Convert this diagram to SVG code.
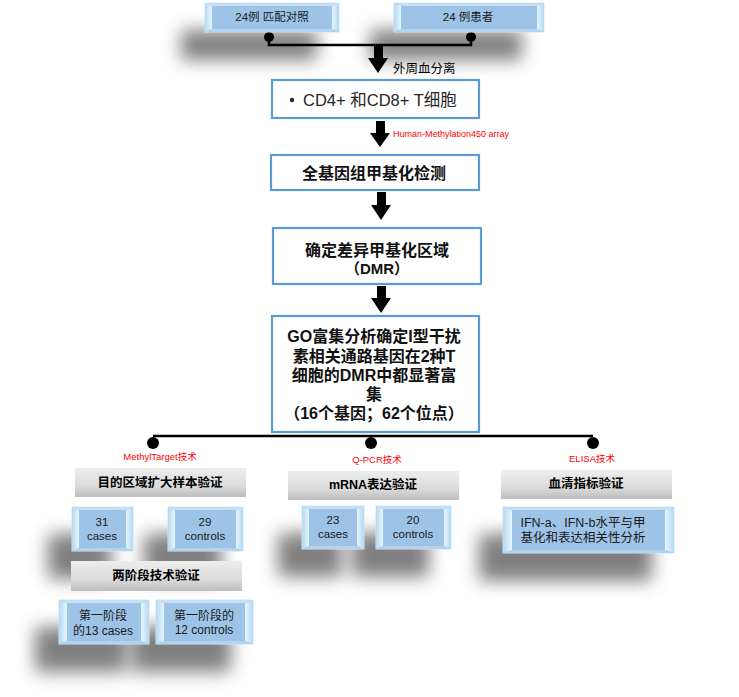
<svg xmlns="http://www.w3.org/2000/svg" width="739" height="697" viewBox="0 0 739 697">
<defs>
<style>
text{font-family:'Liberation Sans','Noto Sans CJK SC',sans-serif;}
.sh{fill:#000;opacity:0.5;filter:url(#blur);}
.main{fill:#fff;stroke:#5B9BD5;stroke-width:2.2;}
.bt{font-size:16px;font-weight:bold;fill:#111;text-anchor:middle;}
.blue{fill:#9DC3E6;stroke:#D2E5F5;stroke-width:1;}
.bl{fill:url(#gl);}
.br{fill:url(#gr);}
.bh{fill:#C4DEF3;}
.bv{fill:#B3D3EE;}
.bx{font-size:11.5px;fill:#1a1a1a;text-anchor:middle;}
.hd{fill:url(#gg);}
.ht{font-size:12.5px;font-weight:bold;fill:#000;text-anchor:middle;}
.red{font-size:9.5px;fill:#FF0000;text-anchor:middle;}
.ln{stroke:#000;stroke-width:2.5;fill:none;}
.ar{fill:#000;}
</style>
<filter id="blur" x="-70%" y="-90%" width="240%" height="280%"><feGaussianBlur stdDeviation="9"/></filter>
<linearGradient id="gl" x1="0" y1="0" x2="1" y2="0"><stop offset="0" stop-color="#B5D8F2"/><stop offset="1" stop-color="#E6F6FF"/></linearGradient>
<linearGradient id="gr" x1="0" y1="0" x2="1" y2="0"><stop offset="0" stop-color="#E6F6FF"/><stop offset="1" stop-color="#B5D8F2"/></linearGradient>
<linearGradient id="gg" x1="0" y1="0" x2="0" y2="1"><stop offset="0" stop-color="#EDEDED"/><stop offset="0.6" stop-color="#DCDCDC"/><stop offset="1" stop-color="#BDBDBD"/></linearGradient>
</defs>

<g id="shadows">
<rect class="sh" x="181" y="30" width="136" height="30"/>
<rect class="sh" x="370" y="30" width="152" height="30"/>
<rect class="sh" x="48" y="534" width="63" height="45"/>
<rect class="sh" x="144" y="534" width="77" height="45"/>
<rect class="sh" x="35" y="627" width="92" height="45"/>
<rect class="sh" x="132" y="627" width="99" height="45"/>
<rect class="sh" x="278" y="533" width="64" height="44"/>
<rect class="sh" x="352" y="533" width="77" height="44"/>
<rect class="sh" x="479" y="534" width="173" height="47"/>
</g>

<g id="connectors">
<circle cx="269" cy="37" r="5"/>
<circle cx="471" cy="37" r="5"/>
<polyline class="ln" points="269,37 269,45 471,45 471,37"/>
<rect class="ar" x="374" y="44" width="9" height="15"/>
<polygon class="ar" points="368,58 388,58 378,73"/>
<rect class="ar" x="376" y="121" width="9" height="13"/>
<polygon class="ar" points="370,133 390,133 380,147"/>
<rect class="ar" x="377" y="192" width="9" height="14"/>
<polygon class="ar" points="371,205 391,205 381,220"/>
<rect class="ar" x="377" y="286" width="9" height="13"/>
<polygon class="ar" points="371,298 391,298 381,313"/>
<line class="ln" x1="153" y1="436" x2="593" y2="436"/>
<circle cx="153" cy="443" r="6"/>
<circle cx="371" cy="443" r="6"/>
<circle cx="593" cy="443" r="6"/>
<text x="393" y="73" style="font-size:12.5px;fill:#000;">外周血分离</text>
<text x="393" y="137" style="font-size:9px;fill:#FF0000;">Human-Methylation450 array</text>
<text class="red" x="160" y="460">MethylTarget技术</text>
<text class="red" x="377" y="463">Q-PCR技术</text>
<text class="red" x="592" y="462">ELISA技术</text>
</g>

<g id="n_control">
<rect class="blue" x="205" y="3" width="134" height="29"/>
<polygon class="bl" points="205,3 212,6 212,29 205,32"/>
<polygon class="br" points="332,6 339,3 339,32 332,29"/>
<polygon class="bh" points="205,3 339,3 332,6 212,6"/>
<polygon class="bv" points="205,32 212,29 332,29 339,32"/>
<text class="bx" x="272" y="21">24例 匹配对照</text>
</g>
<g id="n_patient">
<rect class="blue" x="394" y="3" width="150" height="29"/>
<polygon class="bl" points="394,3 401,6 401,29 394,32"/>
<polygon class="br" points="537,6 544,3 544,32 537,29"/>
<polygon class="bh" points="394,3 544,3 537,6 401,6"/>
<polygon class="bv" points="394,32 401,29 537,29 544,32"/>
<text class="bx" x="468" y="21">24 例患者</text>
</g>

<g id="n_cells">
<rect class="main" x="272" y="80" width="207" height="38"/>
<circle cx="292" cy="100" r="2.2" fill="#262626"/>
<text x="303" y="106" style="font-size:16.5px;fill:#262626;">CD4+ 和CD8+ T细胞</text>
</g>
<g id="n_wgm">
<rect class="main" x="271" y="155" width="208" height="35"/>
<text class="bt" x="374" y="179">全基因组甲基化检测</text>
</g>
<g id="n_dmr">
<rect class="main" x="273" y="228" width="208" height="56"/>
<text class="bt" x="377" y="256">确定差异甲基化区域</text>
<text class="bt" x="377" y="274" style="font-size:15px;">（DMR）</text>
</g>
<g id="n_go">
<rect class="main" x="272" y="316" width="207" height="116"/>
<text class="bt" x="374" y="342">GO富集分析确定I型干扰</text>
<text class="bt" x="374" y="362">素相关通路基因在2种T</text>
<text class="bt" x="374" y="381">细胞的DMR中都显著富</text>
<text class="bt" x="374" y="400">集</text>
<text class="bt" x="374" y="419">（16个基因；62个位点）</text>
</g>

<g id="h_target">
<rect class="hd" x="75" y="468" width="171" height="29"/>
<text class="ht" x="160" y="487">目的区域扩大样本验证</text>
</g>
<g id="h_mrna">
<rect class="hd" x="288" y="471" width="171" height="29"/>
<text class="ht" x="373" y="489">mRNA表达验证</text>
</g>
<g id="h_serum">
<rect class="hd" x="501" y="470" width="171" height="29"/>
<text class="ht" x="586" y="488">血清指标验证</text>
</g>
<g id="h_twostage">
<rect class="hd" x="71" y="561" width="171" height="30"/>
<text class="ht" x="156" y="580">两阶段技术验证</text>
</g>

<g id="n_31">
<rect class="blue" x="72" y="507" width="61" height="44"/>
<polygon class="bl" points="72,507 79,510 79,548 72,551"/>
<polygon class="br" points="126,510 133,507 133,551 126,548"/>
<polygon class="bh" points="72,507 133,507 126,510 79,510"/>
<polygon class="bv" points="72,551 79,548 126,548 133,551"/>
<text class="bx" x="102" y="526">31</text>
<text class="bx" x="102" y="540">cases</text>
</g>
<g id="n_29">
<rect class="blue" x="168" y="507" width="75" height="44"/>
<polygon class="bl" points="168,507 175,510 175,548 168,551"/>
<polygon class="br" points="236,510 243,507 243,551 236,548"/>
<polygon class="bh" points="168,507 243,507 236,510 175,510"/>
<polygon class="bv" points="168,551 175,548 236,548 243,551"/>
<text class="bx" x="205" y="526">29</text>
<text class="bx" x="205" y="540">controls</text>
</g>
<g id="n_s13">
<rect class="blue" x="59" y="600" width="90" height="44"/>
<polygon class="bl" points="59,600 67,603 67,641 59,644"/>
<polygon class="br" points="141,603 149,600 149,644 141,641"/>
<polygon class="bh" points="59,600 149,600 141,603 67,603"/>
<polygon class="bv" points="59,644 67,641 141,641 149,644"/>
<text class="bx" x="103" y="620" style="font-size:12px;">第一阶段</text>
<text class="bx" x="103" y="635" style="font-size:12px;">的13 cases</text>
</g>
<g id="n_s12">
<rect class="blue" x="156" y="600" width="97" height="44"/>
<polygon class="bl" points="156,600 164,603 164,641 156,644"/>
<polygon class="br" points="245,603 253,600 253,644 245,641"/>
<polygon class="bh" points="156,600 253,600 245,603 164,603"/>
<polygon class="bv" points="156,644 164,641 245,641 253,644"/>
<text class="bx" x="204" y="620" style="font-size:12px;">第一阶段的</text>
<text class="bx" x="204" y="634" style="font-size:12px;">12 controls</text>
</g>
<g id="n_23">
<rect class="blue" x="302" y="506" width="62" height="43"/>
<polygon class="bl" points="302,506 309,509 309,546 302,549"/>
<polygon class="br" points="357,509 364,506 364,549 357,546"/>
<polygon class="bh" points="302,506 364,506 357,509 309,509"/>
<polygon class="bv" points="302,549 309,546 357,546 364,549"/>
<text class="bx" x="333" y="524">23</text>
<text class="bx" x="333" y="538">cases</text>
</g>
<g id="n_20">
<rect class="blue" x="376" y="506" width="75" height="43"/>
<polygon class="bl" points="376,506 383,509 383,546 376,549"/>
<polygon class="br" points="444,509 451,506 451,549 444,546"/>
<polygon class="bh" points="376,506 451,506 444,509 383,509"/>
<polygon class="bv" points="376,549 383,546 444,546 451,549"/>
<text class="bx" x="413" y="524">20</text>
<text class="bx" x="413" y="538">controls</text>
</g>
<g id="n_ifn">
<rect class="blue" x="503" y="507" width="171" height="46"/>
<polygon class="bl" points="503,507 512,510 512,550 503,553"/>
<polygon class="br" points="665,510 674,507 674,553 665,550"/>
<polygon class="bh" points="503,507 674,507 665,510 512,510"/>
<polygon class="bv" points="503,553 512,550 665,550 674,553"/>
<text class="bx" x="583" y="527" style="font-size:12.5px;">IFN-a、IFN-b水平与甲</text>
<text class="bx" x="583" y="542" style="font-size:12.5px;">基化和表达相关性分析</text>
</g>
</svg>
